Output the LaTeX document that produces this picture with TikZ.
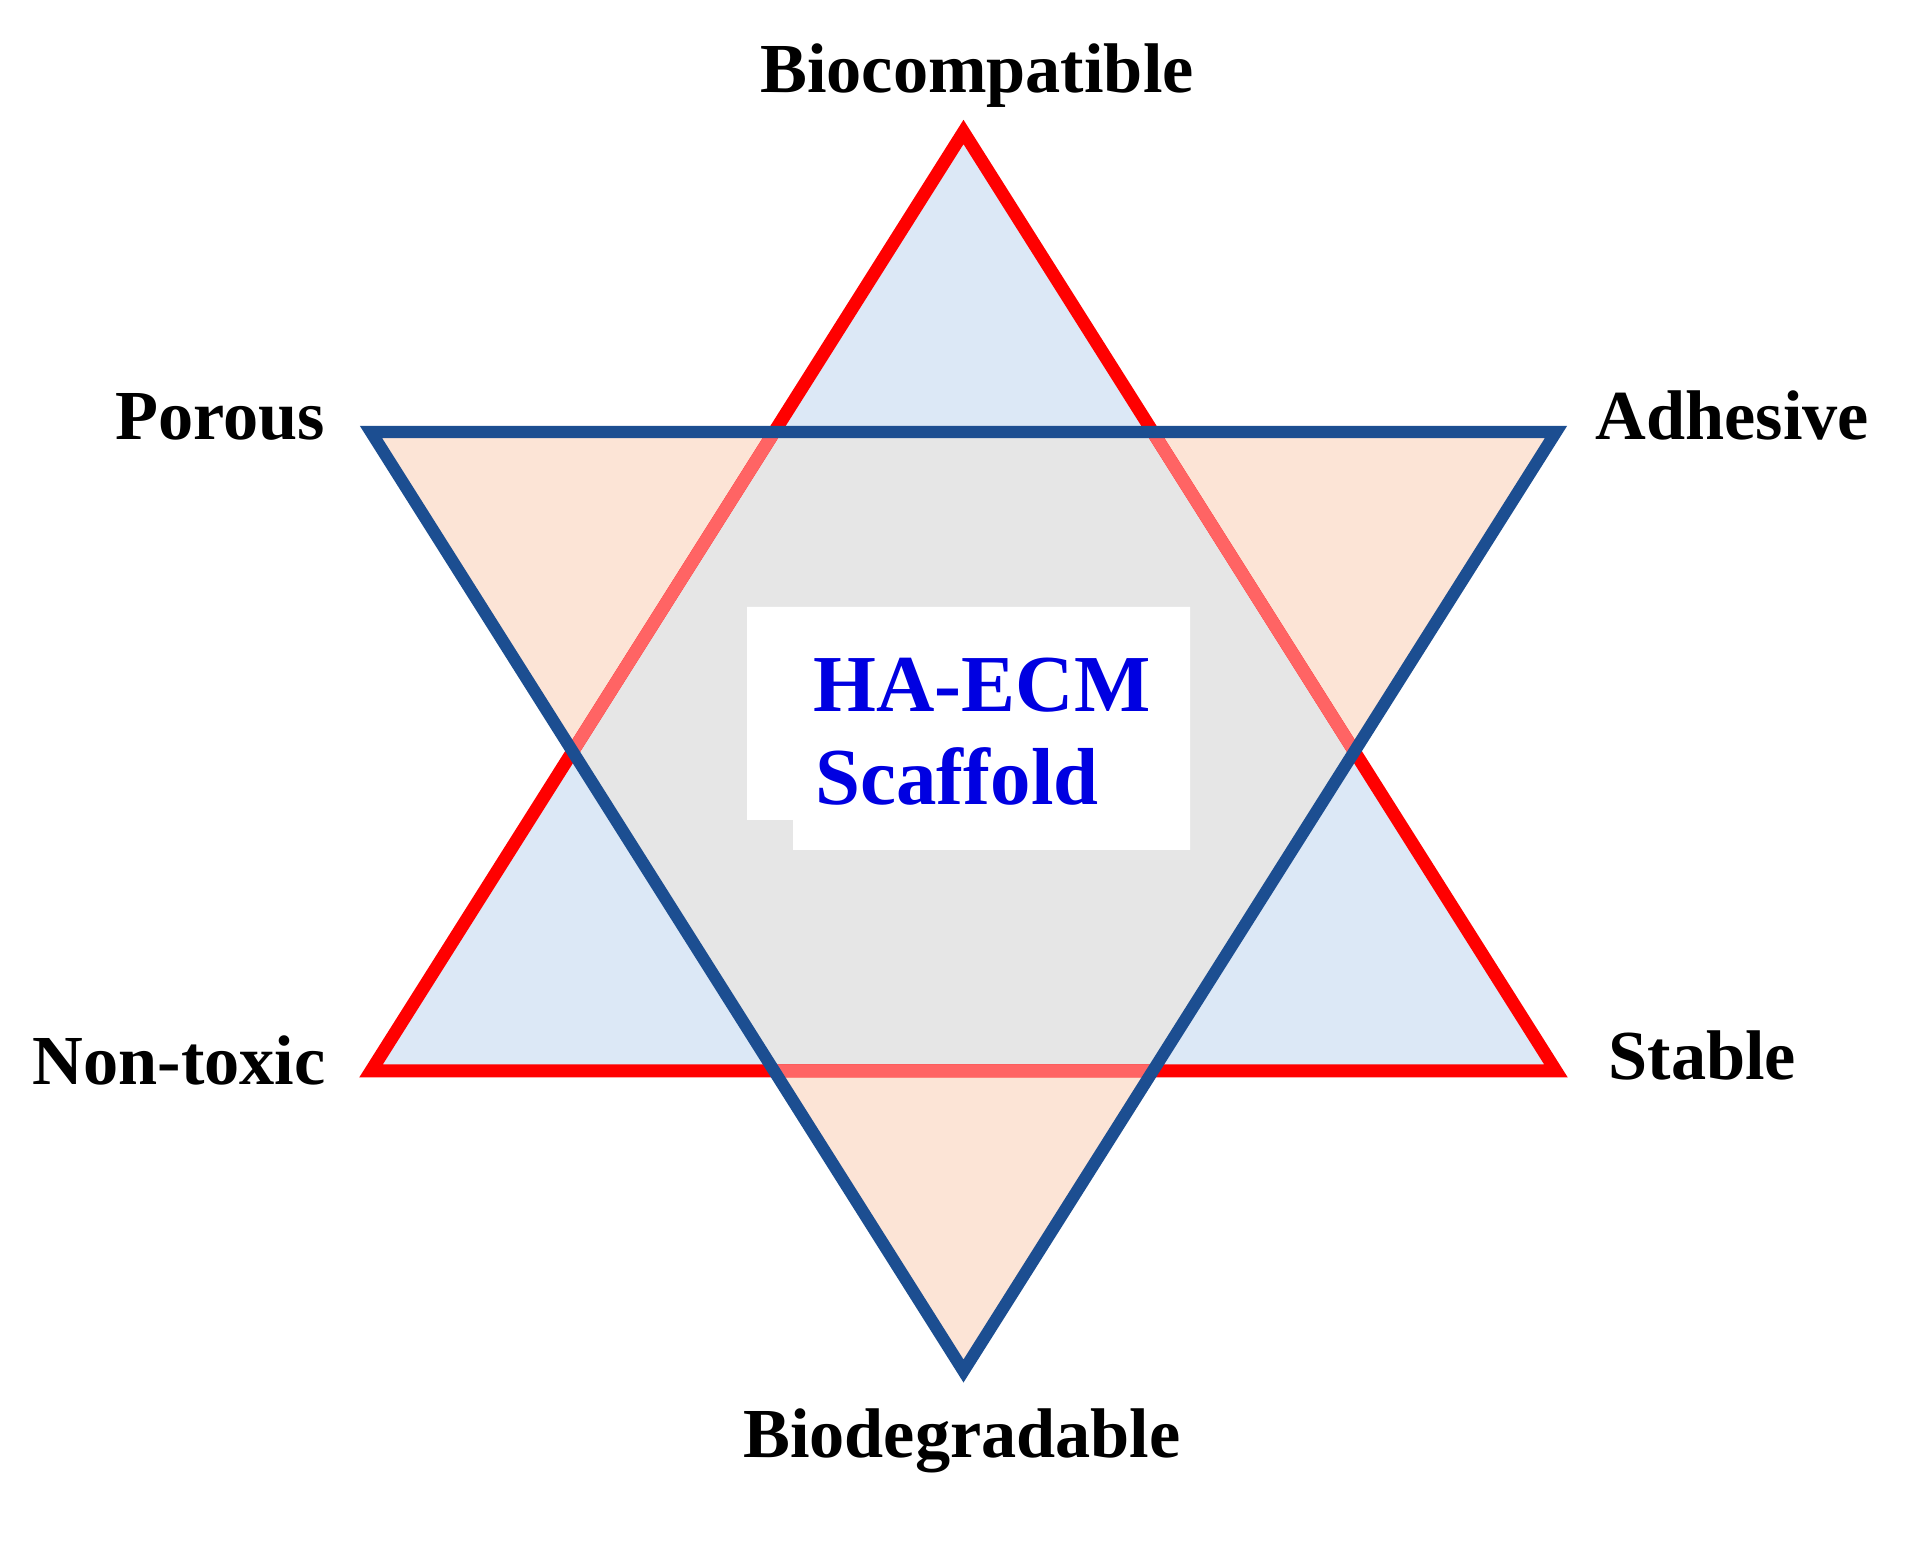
\documentclass[tikz,border=0pt]{standalone}
\usepackage{fontspec}
\setmainfont{Liberation Serif}
\usepackage{tikz}

\definecolor{starred}{RGB}{255,0,0}
\definecolor{fadedred}{RGB}{255,100,100}
\definecolor{starblue}{RGB}{28,78,145}
\definecolor{paleblue}{RGB}{220,232,246}
\definecolor{palepeach}{RGB}{252,228,214}
\definecolor{palegray}{RGB}{230,230,230}
\definecolor{coreblue}{RGB}{0,0,225}

\begin{document}
\begin{tikzpicture}[line join=miter,
            lbl/.style={font=\fontsize{20}{24}\selectfont\bfseries,
                        inner sep=0pt},
            core/.style={font=\fontsize{23}{27}\selectfont\bfseries,
                         text=coreblue, inner sep=0pt, anchor=base west},
            redtri/.style={draw=starred, line width=3.7pt},
            bluetri/.style={draw=starblue, line width=3.5pt}]

        \useasboundingbox (0,0) rectangle (19.07,15.5);

        % corners of the two triangles
        \coordinate (r1) at (9.635,14.18);
        \coordinate (r2) at (3.71,4.79);
        \coordinate (r3) at (15.56,4.79);
        \coordinate (b1) at (3.71,11.18);
        \coordinate (b2) at (15.56,11.18);
        \coordinate (b3) at (9.635,1.79);

        \fill[paleblue]  (r1) -- (r2) -- (r3) -- cycle;
        \fill[palepeach] (b1) -- (b2) -- (b3) -- cycle;
        \begin{scope}
            \clip (r1) -- (r2) -- (r3) -- cycle;
            \fill[palegray] (b1) -- (b2) -- (b3) -- cycle;
        \end{scope}

        % white patch behind the title
        \fill[white] (7.47,9.43) -- (11.90,9.43) -- (11.90,7.00)
                  -- (7.93,7.00) -- (7.93,7.30) -- (7.47,7.30) -- cycle;

        \draw[redtri] (r1) -- (r2) -- (r3) -- cycle;
        \begin{scope}
            \clip (b1) -- (b2) -- (b3) -- cycle;
            \draw[redtri, draw=fadedred] (r1) -- (r2) -- (r3) -- cycle;
        \end{scope}
        \draw[bluetri] (b1) -- (b2) -- (b3) -- cycle;

        \node[core] (ha)   at (8.13,8.38) {HA-ECM};
        \node[core] (scaf) at (8.15,7.45) {Scaffold};

        \node[lbl, anchor=base]      (biocomp) at (9.77,14.57) {Biocompatible};
        \node[lbl, anchor=base west] (porous)  at (1.15,11.10) {Porous};
        \node[lbl, anchor=base west] (adhes)   at (15.95,11.10) {Adhesive};
        \node[lbl, anchor=base west] (nontox)  at (0.32,4.65) {Non-toxic};
        \node[lbl, anchor=base west] (stable)  at (16.08,4.70) {Stable};
        \node[lbl, anchor=base]      (biodeg)  at (9.62,0.92) {Biodegradable};

    \end{tikzpicture}
\end{document}
